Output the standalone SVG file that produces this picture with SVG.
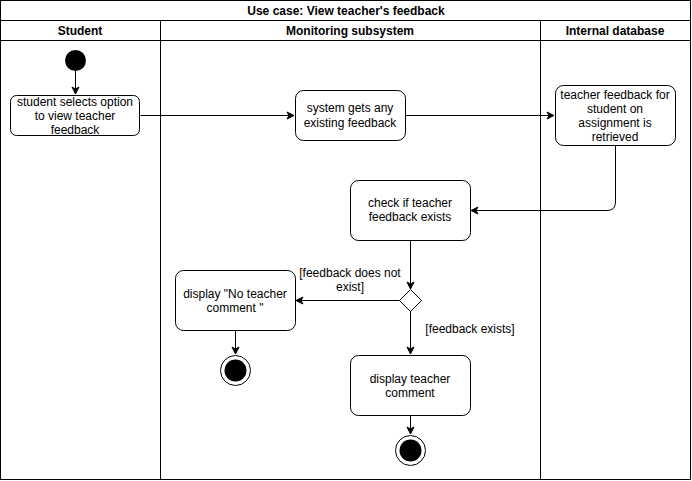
<svg xmlns="http://www.w3.org/2000/svg" width="692" height="481" viewBox="0 0 692 481">
<defs>
<marker id="arr" markerWidth="10" markerHeight="10" refX="8" refY="5" orient="auto" markerUnits="userSpaceOnUse">
<path d="M1,1.5 L8,5 L1,8.5 L3,5 Z" fill="#000" stroke="#000" stroke-width="1"/>
</marker>
<style>
text{font-family:"Liberation Sans",Arial,Helvetica,sans-serif;font-size:12px;fill:#000;text-anchor:middle}
.b{font-weight:bold}
.act{fill:#fff;stroke:#000;stroke-width:1}
.ln{fill:none;stroke:#000;stroke-width:1}
.c{fill:none;stroke:#000;stroke-width:1;marker-end:url(#arr)}
</style>
</defs>
<rect width="692" height="481" fill="#fff"/>
<g id="pool">
<rect x="0.5" y="0.5" width="690" height="479" class="ln"/>
<line x1="0.5" y1="20.5" x2="690.5" y2="20.5" class="ln"/>
<line x1="0.5" y1="40.5" x2="690.5" y2="40.5" class="ln"/>
<line x1="160.5" y1="20.5" x2="160.5" y2="480" class="ln"/>
<line x1="540.5" y1="20.5" x2="540.5" y2="480" class="ln"/>
<text x="346" y="15" class="b">Use case: View teacher's feedback</text>
<text x="80" y="35" class="b">Student</text>
<text x="350" y="35" class="b">Monitoring subsystem</text>
<text x="615" y="35" class="b">Internal database</text>
</g>
<g id="connectors">
<path d="M75.5,71 V94" class="c"/>
<path d="M140.5,115.5 H294" class="c"/>
<path d="M405.5,115.5 H554" class="c"/>
<path d="M615.5,145.5 V202 Q615.5,210.5 607,210.5 H471" class="c"/>
<path d="M410.5,240.5 V289" class="c"/>
<path d="M399.5,300.5 H296" class="c"/>
<path d="M410.5,310.5 V354" class="c"/>
<path d="M235.5,330.5 V354" class="c"/>
<path d="M410.5,415.5 V434" class="c"/>
<text x="350" y="277">[feedback does not</text>
<text x="350" y="291">exist]</text>
<text x="470" y="333">[feedback exists]</text>
</g>
<g id="start"><circle cx="75.5" cy="60.5" r="10.5" fill="#000"/></g>
<g id="n1">
<rect x="10.5" y="95.5" width="129" height="40" rx="6" class="act"/>
<text x="75" y="106">student selects option</text>
<text x="75" y="120">to view teacher</text>
<text x="75" y="134">feedback</text>
</g>
<g id="n2">
<rect x="295.5" y="90.5" width="110" height="50" rx="8" class="act"/>
<text x="350" y="112">system gets any</text>
<text x="350" y="127">existing feedback</text>
</g>
<g id="n3">
<rect x="555.5" y="85.5" width="120" height="60" rx="8" class="act"/>
<text x="615" y="99">teacher feedback for</text>
<text x="615" y="113">student on</text>
<text x="615" y="127">assignment is</text>
<text x="615" y="141">retrieved</text>
</g>
<g id="n4">
<rect x="350.5" y="180.5" width="120" height="60" rx="8" class="act"/>
<text x="410" y="207">check if teacher</text>
<text x="410" y="221">feedback exists</text>
</g>
<g id="decision">
<path d="M410.5,289.5 L421.5,300.5 L410.5,311.5 L399.5,300.5 Z" class="act"/>
</g>
<g id="n5">
<rect x="175.5" y="270.5" width="120" height="60" rx="8" class="act"/>
<text x="235" y="298">display "No teacher</text>
<text x="235" y="312">comment "</text>
</g>
<g id="end1">
<circle cx="235.5" cy="370.5" r="15" fill="#fff" stroke="#000"/>
<circle cx="235.5" cy="370.5" r="11" fill="#000"/>
</g>
<g id="n6">
<rect x="350.5" y="355.5" width="120" height="60" rx="8" class="act"/>
<text x="410" y="383">display teacher</text>
<text x="410" y="397">comment</text>
</g>
<g id="end2">
<circle cx="410.5" cy="450.5" r="15" fill="#fff" stroke="#000"/>
<circle cx="410.5" cy="450.5" r="11" fill="#000"/>
</g>
</svg>
